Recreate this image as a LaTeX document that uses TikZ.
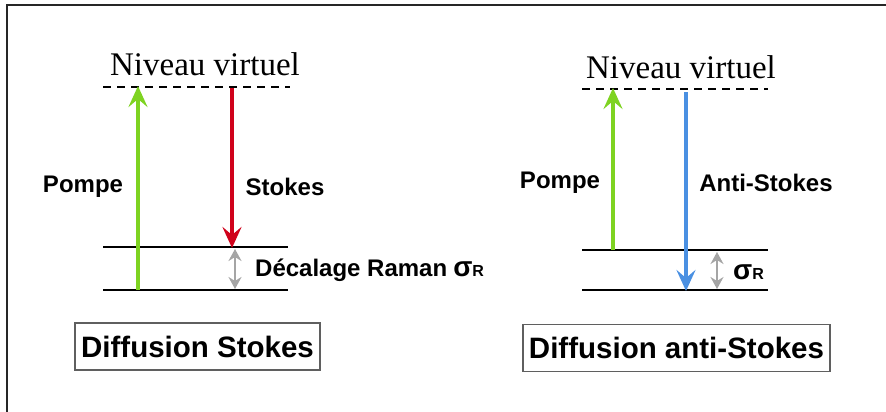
\documentclass[tikz,border=0pt]{standalone}
\usepackage{fontspec}
\setmainfont{Liberation Serif}
\setsansfont{Liberation Sans}
\usetikzlibrary{arrows.meta}
\definecolor{pgreen}{RGB}{126,211,33}
\definecolor{sred}{RGB}{208,2,27}
\definecolor{ablue}{RGB}{74,144,226}
\definecolor{sgray}{RGB}{165,165,165}
\definecolor{boxgray}{RGB}{95,95,95}
\tikzset{
  level/.style={line width=1.6pt, black},
  virt/.style={line width=1.6pt, black, dash pattern=on 8pt off 6pt},
  beam/.style={line width=3.4pt, -{Stealth[length=21pt,width=19pt,inset=8pt]}},
  ramanshift/.style={line width=2.2pt, sgray, {Stealth[length=12pt,width=13pt,inset=4pt]}-{Stealth[length=12pt,width=13pt,inset=4pt]}},
  title/.style={font=\fontsize{33}{33}\selectfont, anchor=base, inner sep=0pt},
  lab/.style={font=\sffamily\bfseries\fontsize{24}{24}\selectfont, inner sep=0pt},
  caption/.style={draw=boxgray, line width=1.4pt, font=\sffamily\bfseries\fontsize{29.5}{29.5}\selectfont, inner sep=0pt, minimum height=47pt},
}
\begin{document}
\begin{tikzpicture}[x=1pt,y=-1pt]
\useasboundingbox (0,0) rectangle (886,412);
% frame
\coordinate (fl) at (7,412);
\coordinate (ftl) at (7,5);
\coordinate (ftr) at (886,5);
\draw[line width=2.2pt, black!85] (fl) -- (ftl) -- (ftr);

% ---------- Stokes ----------
\node[title] (t1) at (205,75) {Niveau virtuel};
\coordinate (v1a) at (103,87);  \coordinate (v1b) at (290,87);
\coordinate (u1a) at (103,247); \coordinate (u1b) at (288,247);
\coordinate (g1a) at (103,290); \coordinate (g1b) at (288,290);
\draw[virt] (v1a) -- (v1b);
\draw[level] (u1a) -- (u1b);
\draw[level] (g1a) -- (g1b);
\coordinate (p1s) at (138,290); \coordinate (p1e) at (138,86);
\draw[beam, pgreen] (p1s) -- (p1e);
\coordinate (s1s) at (232,88); \coordinate (s1e) at (232,248);
\draw[beam, sred] (s1s) -- (s1e);
\coordinate (r1a) at (235,249); \coordinate (r1b) at (235,289);
\draw[ramanshift] (r1a) -- (r1b);
\node[lab] (pompe1) at (83,187) {Pompe};
\node[lab] (stokes1) at (285,187) {Stokes};
\node[lab, anchor=west] (raman) at (255,270) {Décalage Raman\hspace{6pt}{\fontsize{28}{28}\selectfont σ}{\fontsize{16}{16}\selectfont R}};
\node[caption, minimum width=245pt] (c1) at (197.5,346.5) {Diffusion Stokes};

% ---------- anti-Stokes ----------
\node[title] (t2) at (681,78) {Niveau virtuel};
\coordinate (v2a) at (582,89);  \coordinate (v2b) at (768,89);
\coordinate (u2a) at (582,250); \coordinate (u2b) at (768,250);
\coordinate (g2a) at (582,290); \coordinate (g2b) at (768,290);
\draw[virt] (v2a) -- (v2b);
\draw[level] (u2a) -- (u2b);
\draw[level] (g2a) -- (g2b);
\coordinate (p2s) at (613,250); \coordinate (p2e) at (613,88);
\draw[beam, pgreen] (p2s) -- (p2e);
\coordinate (a2s) at (686,92); \coordinate (a2e) at (686,291);
\draw[beam, ablue] (a2s) -- (a2e);
\coordinate (r2a) at (717,252); \coordinate (r2b) at (717,289);
\draw[ramanshift] (r2a) -- (r2b);
\node[lab] (pompe2) at (560,183) {Pompe};
\node[lab] (astokes) at (766,183) {Anti-Stokes};
\node[lab, anchor=west] (sig2) at (733,272) {{\fontsize{28}{28}\selectfont σ}{\fontsize{16}{16}\selectfont R}};
\node[caption, minimum width=307pt] (c2) at (676.5,348) {Diffusion anti-Stokes};
\end{tikzpicture}
\end{document}
